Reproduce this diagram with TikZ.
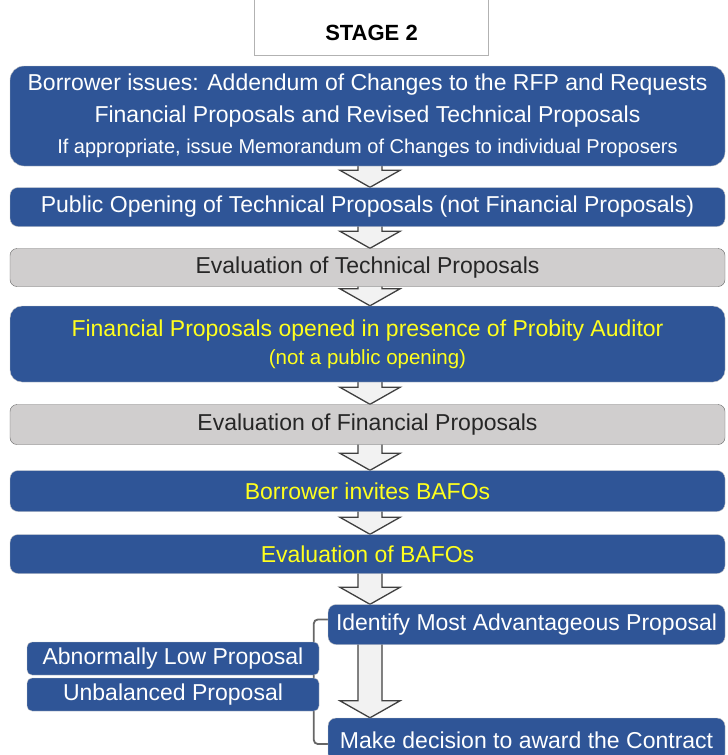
\documentclass[tikz,border=0pt]{standalone}
\usepackage{fontspec}
\setmainfont{Liberation Sans}
\usetikzlibrary{calc,backgrounds}

\definecolor{procblue}{RGB}{47,85,151}
\definecolor{procgray}{RGB}{208,206,206}
\definecolor{procyellow}{RGB}{255,255,30}
\definecolor{arrowfill}{RGB}{242,242,242}

\tikzset{
  bluebox/.style={draw=gray!45, fill=procblue, text=white, rounded corners=8pt,
    minimum width=715, inner sep=0pt, align=center, font=\fontsize{23}{32}\selectfont},
  graybox/.style={draw=gray!80!black, fill=procgray, text=black!85, rounded corners=7pt,
    minimum width=715, inner sep=0pt, align=center, font=\fontsize{23}{32}\selectfont},
  sidebox/.style={draw=gray!45, fill=procblue, text=white, rounded corners=5pt,
    minimum width=292, minimum height=33, inner sep=0pt, font=\fontsize{23}{28}\selectfont},
  hollow/.style={fill=arrowfill, draw=black!75, line width=1.3pt, line join=miter},
  bracket/.style={draw=gray!80!black, line width=1.8pt, rounded corners=4pt},
}

% hollow block arrow from the bottom of #1 to the top of #2
\newcommand{\flowarrow}[2]{%
\begin{scope}[on background layer]
\filldraw[hollow] let \p1=(#1.south), \p2=(#2.north) in
  (358pt,\y1+6pt) -- (358pt,\y2+17pt) -- (340pt,\y2+17pt) -- (370pt,\y2)
  -- (400pt,\y2+17pt) -- (382pt,\y2+17pt) -- (382pt,\y1+6pt) -- cycle;
\end{scope}}

\begin{document}
\begin{tikzpicture}[x=1pt,y=-1pt]
\useasboundingbox (0,0) rectangle (728,755);

% title tab
\node[minimum width=233, minimum height=44, inner sep=0pt,
  font=\fontsize{22}{26}\selectfont\bfseries] (stage) at (371.5,33) {STAGE 2};
\draw[gray!60, line width=1pt] ([yshift=12pt]stage.north west) -- (stage.south west)
  -- (stage.south east) -- ([yshift=12pt]stage.north east);

% main column
\node[bluebox, minimum height=100, rounded corners=14pt] (issue) at (367.5,116)
  {Borrower issues: Addendum of Changes to the RFP and Requests\\
   Financial Proposals and Revised Technical Proposals\\[-1pt]
   {\fontsize{20}{24}\selectfont If appropriate, issue Memorandum of Changes to individual Proposers}};
\node[bluebox, minimum height=39] (open) at (367.5,207)
  {Public Opening of Technical Proposals (not Financial Proposals)};
\node[graybox, minimum height=38] (evaltech) at (367.5,267.5)
  {Evaluation of Technical Proposals};
\node[bluebox, minimum height=76, rounded corners=12pt, text=procyellow] (finopen) at (367.5,344)
  {Financial Proposals opened in presence of Probity Auditor\\[-4pt]
   {\fontsize{20.5}{24}\selectfont (not a public opening)}};
\node[graybox, minimum height=40] (evalfin) at (367.5,424.5)
  {Evaluation of Financial Proposals};
\node[bluebox, minimum height=41, text=procyellow] (bafo) at (367.5,491)
  {Borrower invites BAFOs};
\node[bluebox, minimum height=39, text=procyellow] (evalbafo) at (367.5,554)
  {Evaluation of BAFOs};

% award step
\node[bluebox, minimum width=397, minimum height=40] (ident) at (526.5,624.5)
  {Identify Most Advantageous Proposal};
\node[bluebox, minimum width=397, minimum height=44] (decide) at (526.5,740)
  {Make decision to award the Contract};
\node[sidebox] (lowprop) at (173,658.5) {Abnormally Low Proposal};
\node[sidebox] (unbal) at (173,694.5) {Unbalanced Proposal};

\begin{scope}[on background layer]
\draw[bracket] ([yshift=5pt]ident.west) -- ++(-14,0) |- ([yshift=-4pt]decide.west);
\end{scope}

\flowarrow{issue}{open}
\flowarrow{open}{evaltech}
\flowarrow{evaltech}{finopen}
\flowarrow{finopen}{evalfin}
\flowarrow{evalfin}{bafo}
\flowarrow{bafo}{evalbafo}
\flowarrow{evalbafo}{ident}
\flowarrow{ident}{decide}

\end{tikzpicture}
\end{document}
